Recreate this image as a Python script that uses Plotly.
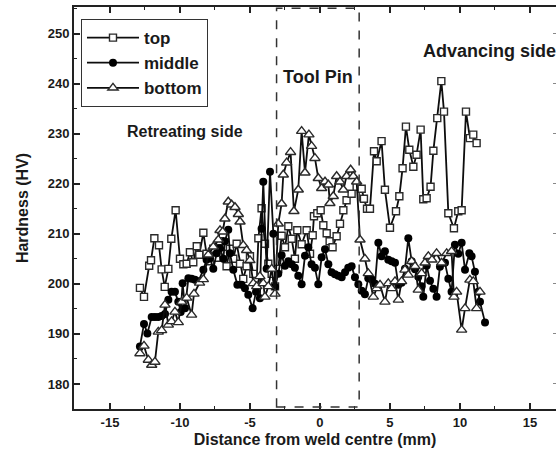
import plotly.graph_objects as go

# ---- data ----
top_x = [-12.86, -12.57, -12.2, -12.07, -11.83, -11.5, -11.31, -11.09, -10.83, -10.62, -10.31, -10.0,
         -9.76, -9.52, -9.29, -9.05, -8.8, -8.62, -8.33, -8.1, -7.86, -7.62, -7.38, -7.14, -6.9, -6.67,
         -6.43, -6.19, -5.95, -5.71, -5.48, -5.24, -5.0, -4.76, -4.52, -4.4, -4.17, -3.93, -3.69, -3.45,
         -3.21, -2.98, -2.74, -2.5, -2.26, -2.02, -1.79, -1.62, -1.31, -0.95, -0.71, -0.52, -0.43, -0.19,
         0.05, 0.24, 0.48, 0.69, 0.9, 1.19, 1.43, 1.67, 1.9, 2.26, 2.62, 2.98, 3.14, 3.36, 3.57, 3.86,
         4.05, 4.4, 4.64, 5.0, 5.43, 5.67, 5.9, 6.14, 6.38, 6.67, 6.9, 7.19, 7.38, 7.62, 7.9, 8.1, 8.38,
         8.67, 8.86, 9.17, 9.57, 9.88, 10.12, 10.43, 10.71, 10.95, 11.19]
top_y = [199.2, 197.4, 203.6, 204.7, 209.1, 207.7, 202.9, 199.4, 203.0, 209.0, 214.7, 205.0,
         203.9, 204.0, 206.3, 204.3, 207.5, 205.8, 210.2, 206.0, 204.5, 207.0, 205.2, 208.5, 206.0, 203.5,
         207.0, 205.0, 208.0, 204.0, 201.0, 203.5, 205.5, 202.0, 200.5, 209.1, 215.1, 208.0, 204.0, 202.0,
         199.5, 203.0, 209.6, 207.3, 211.5, 209.0, 205.0, 210.7, 207.9, 210.7, 206.0, 209.7, 213.5, 214.1,
         214.7, 211.7, 210.1, 208.5, 207.3, 209.5, 212.0, 214.7, 216.7, 218.0, 219.4, 219.0, 217.0, 215.0, 215.0, 226.5,
         224.5, 228.5, 218.8, 211.2, 214.5, 217.5, 223.1, 231.4, 226.8, 223.4, 225.8, 230.8, 216.9, 217.1, 219.4, 226.6, 233.1,
         240.5, 234.4, 214.1, 211.1, 214.5, 214.7, 234.4, 229.1, 229.8, 228.1]

middle_x = [-12.86, -12.57, -12.33, -12.02, -11.79, -11.55, -11.31, -11.07, -10.83, -10.6, -10.36, -10.12,
            -9.95, -9.81, -9.64, -9.4, -9.17, -8.93, -8.69, -8.33, -8.1, -7.86, -7.62, -7.38, -7.14, -6.9,
            -6.79, -6.55, -6.43, -6.19, -5.9, -5.6, -5.36, -5.12, -4.81, -4.57, -4.29, -4.17, -4.05, -3.81,
            -3.57, -3.33, -3.21, -2.98, -2.74, -2.5, -2.26, -2.02, -1.79, -1.55, -1.31, -1.07, -0.83, -0.6,
            -0.36, -0.12, 0.12, 0.36, 0.6, 0.83, 1.07, 1.31, 1.55, 1.79, 2.02, 2.26, 2.5, 2.74, 2.98, 3.21,
            3.45, 3.69, 3.93, 4.17, 4.4, 4.64, 4.88, 5.12, 5.36, 5.6, 5.83, 6.07, 6.31, 6.55, 6.79, 7.02,
            7.26, 7.38, 7.62, 7.86, 8.1, 8.33, 8.57, 8.93, 9.17, 9.4, 9.64, 9.88, 10.12, 10.36, 10.67, 10.83,
            11.07, 11.31, 11.43, 11.79]
middle_y = [187.5, 192.0, 190.1, 193.4, 193.4, 193.4, 193.6, 194.0, 196.8, 198.4, 198.4, 196.4,
            194.4, 200.1, 195.1, 201.1, 201.0, 200.8, 200.5, 202.8, 204.8, 205.1, 203.0, 206.1, 207.1, 205.0,
            208.5, 210.8, 206.1, 202.8, 199.8, 199.8, 199.1, 197.8, 195.1, 198.4, 197.1, 211.0, 220.4, 203.0,
            222.4, 210.0, 199.4, 202.0, 205.7, 203.6, 204.5, 203.9, 203.2, 201.6, 199.9, 205.6, 207.3, 203.9,
            203.2, 199.9, 205.3, 206.9, 203.9, 202.3, 201.9, 201.6, 201.3, 202.3, 203.2, 203.5, 201.3, 199.9, 198.6, 197.9,
            201.1, 200.9, 200.0, 208.2, 205.5, 206.5, 204.8, 204.5, 204.2, 199.8, 200.2, 203.0, 209.1, 204.5, 202.9, 201.4,
            199.5, 197.4, 203.6, 200.6, 199.0, 197.4, 203.4, 204.2, 201.0, 198.4, 207.8, 206.0, 208.2, 202.8, 206.1, 205.5,
            202.4, 198.4, 196.4, 192.3]

bottom_x = [-12.86, -12.57, -12.26, -12.02, -11.79, -11.55, -11.31, -11.07, -10.83, -10.6, -10.36, -10.12,
            -9.88, -9.52, -9.17, -9.0, -8.6, -8.33, -7.98, -7.62, -7.26, -7.14, -6.95, -6.79, -6.55, -6.31,
            -6.07, -5.83, -5.71, -5.48, -5.24, -5.0, -4.76, -4.52, -4.29, -4.05, -3.93, -3.69, -3.45, -3.21,
            -2.98, -2.74, -2.62, -2.38, -2.1, -1.86, -1.55, -1.31, -1.07, -0.79, -0.6, -0.36, -0.12, 0.12,
            0.36, 0.6, 0.71, 0.95, 1.19, 1.43, 1.67, 1.9, 2.19, 2.38, 2.62, 2.86, 3.21, 3.45, 3.81, 4.05,
            4.29, 4.64, 4.88, 5.12, 5.36, 5.6, 5.83, 6.07, 6.31, 6.55, 6.79, 7.02, 7.26, 7.5, 7.74, 8.0,
            8.33, 8.69, 9.05, 9.4, 9.57, 9.76, 10.12, 10.36, 10.71, 10.95, 11.19, 11.43]
bottom_y = [186.1, 187.6, 184.8, 183.8, 184.4, 190.4, 190.7, 195.8, 191.8, 192.5, 194.4, 192.3,
            196.4, 197.2, 193.8, 198.0, 200.2, 200.9, 205.8, 207.4, 208.8, 210.7, 210.4, 213.0, 216.4, 215.8,
            215.3, 213.9, 212.4, 207.7, 206.7, 204.7, 200.1, 199.5, 201.5, 200.1, 197.4, 199.5, 203.0, 198.0,
            212.0, 216.0, 221.8, 224.2, 226.3, 214.5, 218.8, 230.5, 222.2, 229.8, 227.5, 225.1, 221.1, 219.1,
            220.4, 219.8, 216.1, 217.5, 221.5, 220.4, 218.8, 221.5, 222.8, 221.5, 220.4, 208.8, 205.0, 202.1, 197.4, 199.1,
            199.8, 196.4, 200.1, 199.1, 200.5, 196.8, 200.5, 202.8, 201.8, 204.5, 203.5, 198.8, 202.1, 204.2, 205.5, 204.8,
            206.1, 204.2, 206.1, 206.5, 197.4, 198.4, 190.8, 195.1, 200.8, 200.5, 195.1, 198.4]

x_ticks = [-15, -10, -5, 0, 5, 10, 15]
y_ticks = [180, 190, 200, 210, 220, 230, 240, 250]
pin_edges = [-3.1, 2.8]
x_range = [-17.57, 16.86]
y_range = [175, 255.3]

FONT = "Liberation Sans, Arial, Helvetica, sans-serif"
INK = "#1a1a1a"

fig = go.Figure()
line_style = dict(color="#0d0d0d", width=1.8)
fig.add_trace(go.Scatter(x=top_x, y=top_y, name="top", mode="lines+markers", line=line_style,
                         marker=dict(symbol="square", size=7, color="white",
                                     line=dict(color="#2a2a2a", width=1.4))))
fig.add_trace(go.Scatter(x=middle_x, y=middle_y, name="middle", mode="lines+markers", line=line_style,
                         marker=dict(symbol="circle", size=8, color="#000000",
                                     line=dict(color="#000000", width=0))))
fig.add_trace(go.Scatter(x=bottom_x, y=bottom_y, name="bottom", mode="lines+markers", line=line_style,
                         marker=dict(symbol="triangle-up", size=9, color="white",
                                     line=dict(color="#2a2a2a", width=1.4))))
# empty helper trace so the right-hand tick-only axis is rendered
fig.add_trace(go.Scatter(x=[None], y=[None], yaxis="y2", showlegend=False, hoverinfo="skip"))

fig.add_shape(type="rect", x0=pin_edges[0], x1=pin_edges[1], xref="x", yref="paper", y0=0.005, y1=0.997,
              line=dict(color="#333333", width=1.5, dash="dash"))

fig.add_annotation(x=-9.64, y=230.4, text="Retreating side", showarrow=False,
                   font=dict(family=FONT, size=16, color=INK, weight="bold"))
fig.add_annotation(x=-0.14, y=241.4, text="Tool Pin", showarrow=False,
                   font=dict(family=FONT, size=18, color=INK, weight="bold"))
fig.add_annotation(x=7.2, y=246.6, text="Advancing side", showarrow=False, xanchor="left",
                   font=dict(family=FONT, size=18, color=INK, weight="bold"))

tickfont = dict(family=FONT, size=13, color=INK, weight="bold")
title_font = dict(family=FONT, size=16, color=INK, weight="bold")

fig.update_layout(
    width=556, height=457,
    margin=dict(l=74, r=0, t=7, b=48),
    paper_bgcolor="white", plot_bgcolor="white",
    showlegend=True,
    legend=dict(x=0.0145, y=0.97, xanchor="left", yanchor="top", bgcolor="white",
                bordercolor="#333333", borderwidth=1,
                font=dict(family=FONT, size=17, color=INK, weight="bold"),
                itemwidth=52, tracegroupgap=0),
    xaxis=dict(range=x_range, tickvals=x_ticks, ticktext=[str(v) for v in x_ticks],
               showline=True, linecolor="#222222", linewidth=2, mirror="ticks",
               ticks="inside", ticklen=6, tickwidth=1.5, tickcolor="#222222",
               minor=dict(ticks="inside", ticklen=3, dtick=2.5, tickcolor="#222222", tickwidth=1.2),
               showgrid=False, zeroline=False, tickfont=tickfont,
               title=dict(text="Distance from weld centre (mm)", standoff=5, font=title_font)),
    yaxis=dict(range=y_range, tickvals=y_ticks, ticktext=[str(v) for v in y_ticks],
               showline=True, linecolor="#222222", linewidth=2, mirror=False,
               ticks="inside", ticklen=6, tickwidth=1.5, tickcolor="#222222",
               minor=dict(ticks="inside", ticklen=3, dtick=5, tickcolor="#222222", tickwidth=1.2),
               showgrid=False, zeroline=False, tickfont=tickfont,
               title=dict(text="Hardness (HV)", standoff=15, font=title_font)),
    yaxis2=dict(range=y_range, overlaying="y", side="right", tickvals=y_ticks,
                showticklabels=False, showline=False, showgrid=False, zeroline=False,
                ticks="inside", ticklen=3, tickwidth=1.2, tickcolor="#888888"),
)

fig.write_html("out.html", config={"displayModeBar": False},
               post_script="document.body.style.margin='0';document.body.style.overflow='hidden';")
